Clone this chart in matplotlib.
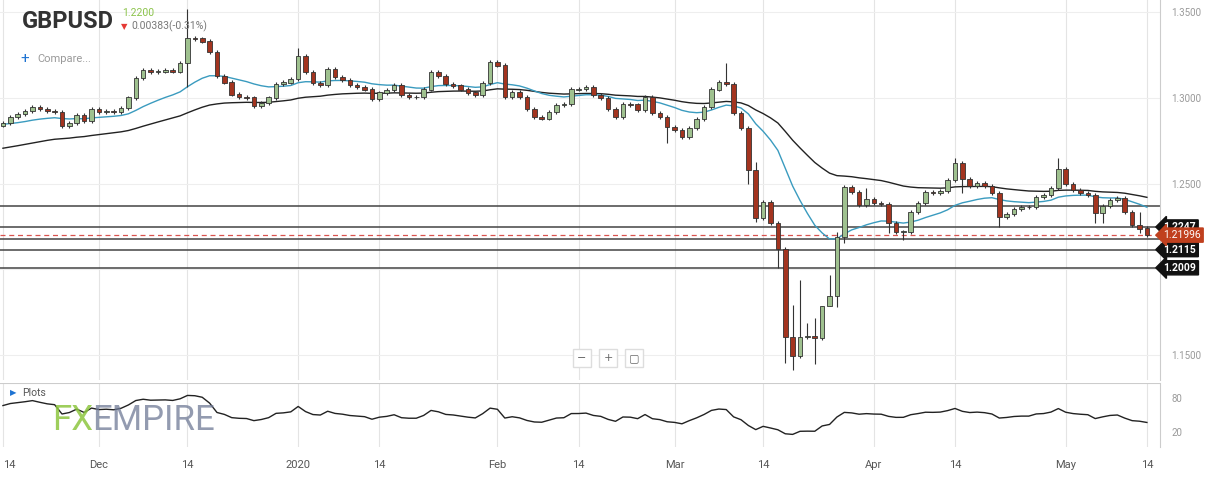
import numpy as np
import pandas as pd
import matplotlib
matplotlib.use("Agg")
import matplotlib.pyplot as plt
from matplotlib.transforms import blended_transform_factory

# daily closes (Sunday-Friday candles)
closes = [
    1.2853, 1.2888, 1.2905, 1.2923, 1.2946, 1.2934, 1.2923, 1.2917, 1.2835, 1.2853,
    1.2900, 1.2864, 1.2934, 1.2917, 1.2923, 1.2917, 1.2940, 1.3000, 1.3115, 1.3160,
    1.3150, 1.3155, 1.3160, 1.3155, 1.3203, 1.3348, 1.3345, 1.3330, 1.3267, 1.3127,
    1.3090, 1.3020, 1.3005, 1.3000, 1.2952, 1.2970, 1.3000, 1.3080, 1.3090, 1.3110,
    1.3243, 1.3150, 1.3086, 1.3075, 1.3168, 1.3121, 1.3104, 1.3075, 1.3063, 1.3050,
    1.2993, 1.3030, 1.3045, 1.3075,
    1.3016, 1.3005, 1.3005, 1.3050, 1.3150, 1.3127, 1.3080, 1.3070, 1.3050, 1.3030,
    1.3016, 1.3086, 1.3209, 1.3190, 1.3005, 1.3034, 1.3005, 1.2934, 1.2888, 1.2880,
    1.2917, 1.2958, 1.2964, 1.3050, 1.3051, 1.3060, 1.3016, 1.2998, 1.2934, 1.2888,
    1.2964, 1.2960, 1.2928, 1.3005, 1.2911, 1.2888, 1.2830, 1.2812, 1.2771, 1.2824,
    1.2876,
    1.2946, 1.3050, 1.3090, 1.3080, 1.2911, 1.2824, 1.2579, 1.2299, 1.2392, 1.2270,
    1.2118, 1.1605, 1.1494, 1.1605, 1.1610, 1.1600, 1.1786, 1.1844, 1.2188, 1.2480,
    1.2450, 1.2375, 1.2410, 1.2387, 1.2380, 1.2270, 1.2218, 1.2220, 1.2334, 1.2387,
    1.2450, 1.2445, 1.2456, 1.2520, 1.2620, 1.2527, 1.2486, 1.2503, 1.2486, 1.2445,
    1.2305, 1.2323, 1.2352, 1.2363, 1.2363, 1.2422, 1.2433, 1.2474, 1.2585, 1.2497,
    1.2462, 1.2445, 1.2433, 1.2328, 1.2369, 1.2404, 1.2415, 1.2334, 1.2258, 1.2240,
    1.2200,
]
first_open = 1.2840
default_wick = 0.0012
# notable highs / lows: index -> (high, low); None keeps the default
wick_overrides = {
    25: (1.3515, 1.3060), 40: (1.3290, None), 90: (None, 1.2736),
    98: (1.3203, None), 101: (None, 1.2500), 102: (1.2625, 1.2276),
    105: (None, 1.2007), 106: (None, 1.1454), 107: (1.1790, 1.1413),
    108: (1.1938, None), 109: (1.1687, None), 110: (1.1716, 1.1448),
    111: (1.1786, None), 112: (1.1967, 1.1784), 113: (1.2218, 1.1780),
    114: (None, 1.2153), 117: (1.2474, None), 120: (None, 1.2212),
    122: (None, 1.2171), 129: (1.2649, None), 130: (None, 1.2445),
    135: (None, 1.2247), 143: (1.2649, None), 148: (None, 1.2270),
    149: (None, 1.2270), 154: (1.2334, 1.2212),
}
ema_seeds = {"fast": 1.2845, "slow": 1.2700}
rsi_seeds = {"gain": 0.0016, "loss": 0.0008}

levels = [1.2369, 1.2247, 1.2177, 1.2115, 1.2009]
tagged_levels = [1.2247, 1.2115, 1.2009]
last_price = 1.21996

price_ticks = [1.15, 1.20, 1.25, 1.30, 1.35]
price_tick_labels = ["1.1500", "", "1.2500", "1.3000", "1.3500"]
date_ticks = ["2019-11-14", "2019-12-01", "2019-12-15", "2020-01-01", "2020-01-14",
              "2020-02-02", "2020-02-14", "2020-03-01", "2020-03-15", "2020-04-01",
              "2020-04-14", "2020-05-01", "2020-05-14"]
date_labels = ["14", "Dec", "14", "2020", "14", "Feb", "14", "Mar", "14", "Apr",
               "14", "May", "14"]

n = len(closes)
c = np.array(closes)
o = np.concatenate([[first_open], c[:-1]])
h = np.maximum(o, c) + default_wick
l = np.minimum(o, c) - default_wick
for i, (hi, lo) in wick_overrides.items():
    if hi is not None:
        h[i] = hi
    if lo is not None:
        l[i] = lo

all_days = pd.date_range(end="2020-05-14", periods=n * 2)
days = all_days[all_days.dayofweek != 5][-n:]
x = np.arange(n)


def ema(vals, span, seed):
    k = 2 / (span + 1)
    out, e = [], seed
    for v in vals:
        e += k * (v - e)
        out.append(e)
    return np.array(out)


def rsi_wilder(vals, period, g, lo):
    out = []
    prev = vals[0]
    for v in vals:
        d = v - prev
        prev = v
        g = (g * (period - 1) + max(d, 0)) / period
        lo = (lo * (period - 1) + max(-d, 0)) / period
        out.append(100 - 100 / (1 + g / lo))
    return np.array(out)


fast = ema(c, 20, ema_seeds["fast"])
slow = ema(c, 50, ema_seeds["slow"])
rsi = rsi_wilder(c, 14, rsi_seeds["gain"], rsi_seeds["loss"])

plt.rcParams["font.family"] = "Roboto"
fig = plt.figure(figsize=(12.18, 4.78), dpi=100)
ax = fig.add_axes([0, 1 - 380 / 478, 1160 / 1218, 380 / 478])
ax2 = fig.add_axes([0, 1 - 447 / 478, 1160 / 1218, 64 / 478], sharex=ax)

ax.set_xlim(-0.4, (1160 - 3) / 7.38)
ax.set_ylim(1.1355, 1.357)

tick_pos = [int(np.searchsorted(days, pd.Timestamp(d))) for d in date_ticks]
for a in (ax, ax2):
    for t in tick_pos:
        a.axvline(t, color="#e4e4e4", lw=0.8, zorder=0)
    for s in ("top", "left", "bottom"):
        a.spines[s].set_visible(False)
    a.spines["right"].set_color("#cccccc")
    a.yaxis.tick_right()
    a.tick_params(axis="y", length=0, labelsize=7, labelcolor="#999999", pad=8)
for p in price_ticks:
    ax.axhline(p, color="#eeeeee", lw=0.8, zorder=0)
ax.set_yticks(price_ticks)
ax.set_yticklabels(price_tick_labels)
ax.tick_params(axis="x", bottom=False, labelbottom=False)

for lv in levels:
    ax.axhline(lv, color="#444444", lw=1.1, zorder=1)
ax.axhline(last_price, color="#d9534f", lw=0.9, ls=(0, (4, 3)), zorder=1)

ax.plot(x, slow, color="#222222", lw=1.0, zorder=2)
ax.plot(x, fast, color="#3a9bbf", lw=1.0, zorder=2)

up = c >= o
ax.vlines(x, l, h, color="#333333", lw=0.8, zorder=3)
ax.bar(x, np.abs(c - o) + 0.0004, bottom=np.minimum(o, c) - 0.0002, width=0.62,
       color=np.where(up, "#9fc18f", "#a3341f"), edgecolor="#333333", lw=0.6, zorder=4)

tr = blended_transform_factory(ax.transAxes, ax.transData)
for lv in tagged_levels:
    ax.text(1.003, lv, f"{lv:.4f}", transform=tr, fontsize=7.5, color="white",
            fontweight="bold", va="center", ha="left", clip_on=False, zorder=6,
            bbox=dict(boxstyle="larrow,pad=0.2", fc="#111111", ec="#111111"))
ax.text(1.003, last_price, f"{last_price:.5f}", transform=tr, fontsize=7.5,
        color="white", va="center", ha="left", clip_on=False, zorder=7,
        bbox=dict(boxstyle="larrow,pad=0.2", fc="#c0401e", ec="#c0401e"))

fig.text(22 / 1218, 1 - 22 / 478, "GBPUSD", fontsize=17, fontweight="bold",
         color="#333333", va="center")
fig.text(122 / 1218, 1 - 13 / 478, "1.2200", fontsize=7.5, color="#8bc34a", va="center")
fig.text(121 / 1218, 1 - 27 / 478, "\u25bc", fontsize=6, color="#e53935", va="center",
         family="DejaVu Sans")
fig.text(131 / 1218, 1 - 26 / 478, "0.00383(-0.31%)", fontsize=7.5, color="#777777",
         va="center")
fig.text(20 / 1218, 1 - 59 / 478, "+", fontsize=11, color="#1e73d2", va="center")
fig.text(37 / 1218, 1 - 59 / 478, "Compare...", fontsize=8, color="#999999", va="center")
for px, sym in zip([582, 608, 634], ["\u2212", "+", "\u25a2"]):
    fig.text(px / 1218, 1 - 358 / 478, sym, fontsize=8, color="#666666", ha="center",
             va="center", family="DejaVu Sans",
             bbox=dict(boxstyle="square,pad=0.35", fc="white", ec="#dddddd"))

ax2.set_ylim(-6.5, 106.5)
ax2.set_yticks([20, 80])
ax2.plot(x, rsi, color="#222222", lw=1.0, zorder=3)
ax2.axhline(106, color="#cccccc", lw=0.8)
fig.text(52 / 1218, 1 - 420 / 478, "FX", fontsize=25, color="#8dc63f", va="center",
         alpha=0.85, zorder=0)
fig.text(92 / 1218, 1 - 420 / 478, "EMPIRE", fontsize=25, color="#6f7a96", va="center",
         alpha=0.75, zorder=0)
fig.text(10 / 1218, 1 - 393 / 478, "\u25b6", fontsize=6, color="#1e73d2", va="center",
         family="DejaVu Sans")
fig.text(22 / 1218, 1 - 393 / 478, "Plots", fontsize=7.5, color="#555555", va="center")
ax2.set_xticks(tick_pos)
ax2.set_xticklabels(date_labels)
ax2.get_xticklabels()[0].set_horizontalalignment("left")
ax2.tick_params(axis="x", length=0, labelsize=8, labelcolor="#555555", pad=9)

fig.savefig("out.png", dpi=100)
